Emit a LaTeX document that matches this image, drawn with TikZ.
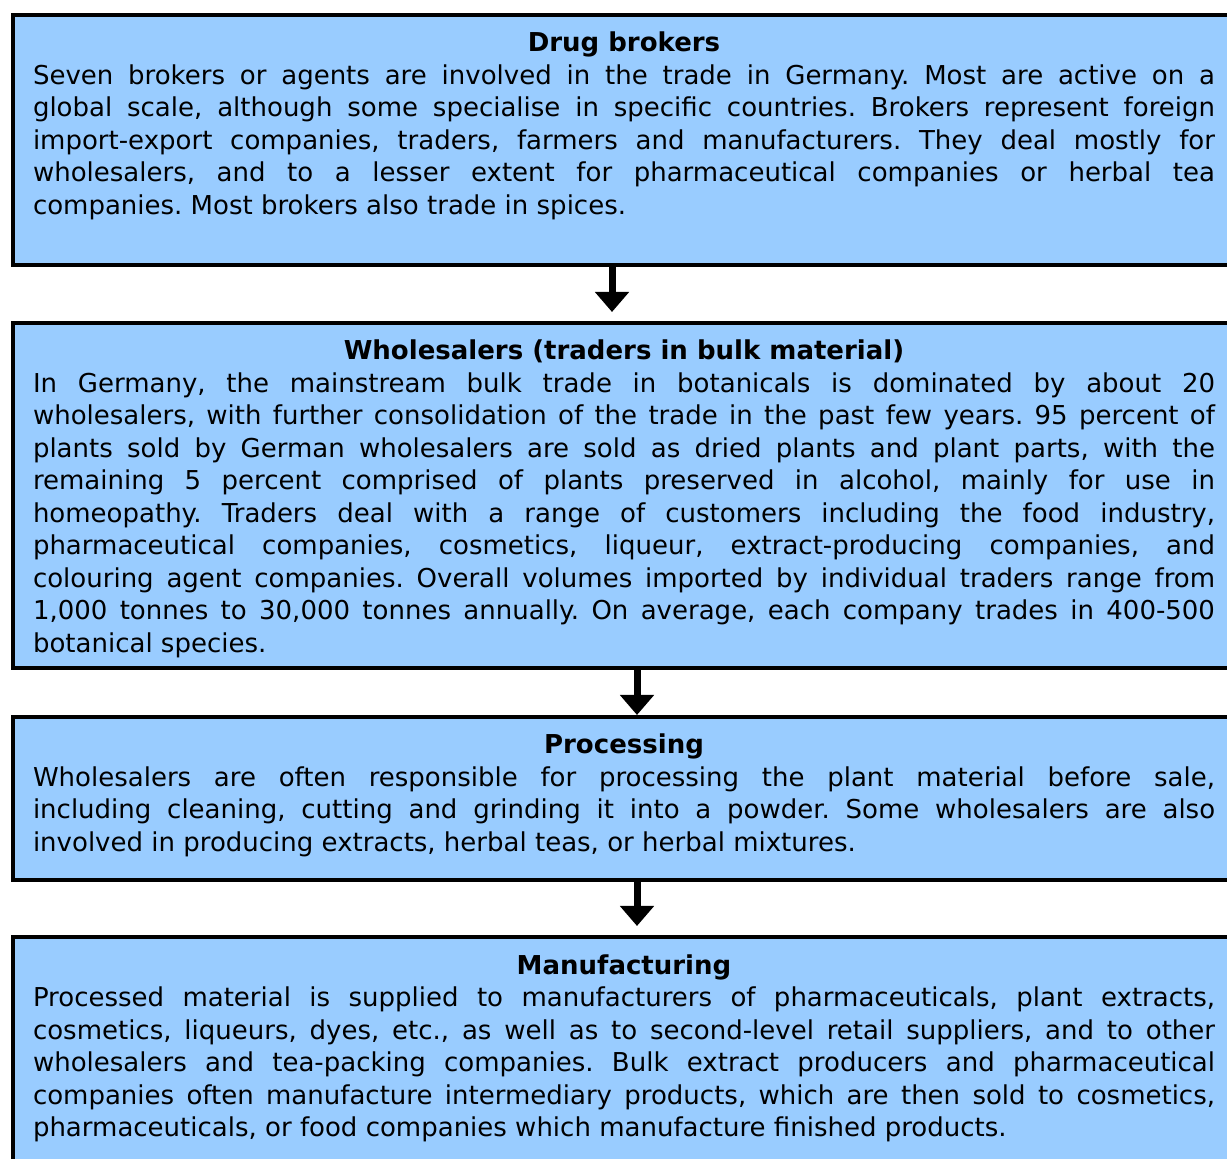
\documentclass[tikz,border=0pt]{standalone}
\usepackage{fontspec}
\setmainfont{DejaVu Sans}
\usetikzlibrary{arrows.meta}
\definecolor{boxblue}{RGB}{153,204,255}
\frenchspacing
\exhyphenpenalty=10000
\hyphenpenalty=10000
\hbadness=10000
\tikzset{
  box/.style={draw=black, line width=2pt, fill=boxblue, rectangle, anchor=north west, minimum width=612.5pt, inner sep=0pt},
  txt/.style={anchor=base, text width=591pt, align=justify, inner sep=0pt, font=\fontsize{13}{16.25}\selectfont},
  arr/.style={-{Triangle[width=16.5pt,length=10pt]}, line width=3.5pt}
}
\begin{document}
\begin{tikzpicture}[x=0.5pt,y=-0.5pt]
\path[use as bounding box, clip] (0,0) rectangle (1227,1159);
\fill[white] (0,0) rectangle (1227,1159);
\node[box, minimum height=125pt] (brokers) at (11,13) {};
\node[box, minimum height=172.75pt] (wholesale) at (11,321) {};
\node[box, minimum height=81.75pt] (processing) at (11,715) {};
\node[box, minimum height=130pt] (manufacturing) at (11,935.5) {};
\node[txt] (t1) at ([xshift=-0.75pt,yshift=-19.5pt]brokers.north) {{\centering\bfseries Drug brokers\par}
Seven brokers or agents are involved in the trade in Germany. Most are active on a\linebreak
global scale, although some specialise in specific countries. Brokers represent foreign\linebreak
import-export companies, traders, farmers and manufacturers. They deal mostly for\linebreak
wholesalers, and to a lesser extent for pharmaceutical companies or herbal tea\linebreak
companies. Most brokers also trade in spices.};
\node[txt] (t2) at ([xshift=-0.75pt,yshift=-19.5pt]wholesale.north) {{\centering\bfseries Wholesalers (traders in bulk material)\par}
In Germany, the mainstream bulk trade in botanicals is dominated by about 20\linebreak
wholesalers, with further consolidation of the trade in the past few years. 95 percent of\linebreak
plants sold by German wholesalers are sold as dried plants and plant parts, with the\linebreak
remaining 5 percent comprised of plants preserved in alcohol, mainly for use in\linebreak
homeopathy. Traders deal with a range of customers including the food industry,\linebreak
pharmaceutical companies, cosmetics, liqueur, extract-producing companies, and\linebreak
colouring agent companies. Overall volumes imported by individual traders range from\linebreak
1,000 tonnes to 30,000 tonnes annually. On average, each company trades in 400-500\linebreak
botanical species.};
\node[txt] (t3) at ([xshift=-0.75pt,yshift=-19.5pt]processing.north) {{\centering\bfseries Processing\par}
Wholesalers are often responsible for processing the plant material before sale,\linebreak
including cleaning, cutting and grinding it into a powder. Some wholesalers are also\linebreak
involved in producing extracts, herbal teas, or herbal mixtures.};
\node[txt] (t4) at ([xshift=-0.75pt,yshift=-19.5pt]manufacturing.north) {{\centering\bfseries Manufacturing\par}
Processed material is supplied to manufacturers of pharmaceuticals, plant extracts,\linebreak
cosmetics, liqueurs, dyes, etc., as well as to second-level retail suppliers, and to other\linebreak
wholesalers and tea-packing companies. Bulk extract producers and pharmaceutical\linebreak
companies often manufacture intermediary products, which are then sold to cosmetics,\linebreak
pharmaceuticals, or food companies which manufacture finished products.};
\draw[arr] ([xshift=-6.75pt]brokers.south) -- ([xshift=-6.75pt,yshift=4.5pt]wholesale.north);
\draw[arr] ([xshift=5.75pt]wholesale.south) -- ([xshift=5.75pt]processing.north);
\draw[arr] ([xshift=5.75pt]processing.south) -- ([xshift=5.75pt,yshift=4.75pt]manufacturing.north);
\end{tikzpicture}
\end{document}
